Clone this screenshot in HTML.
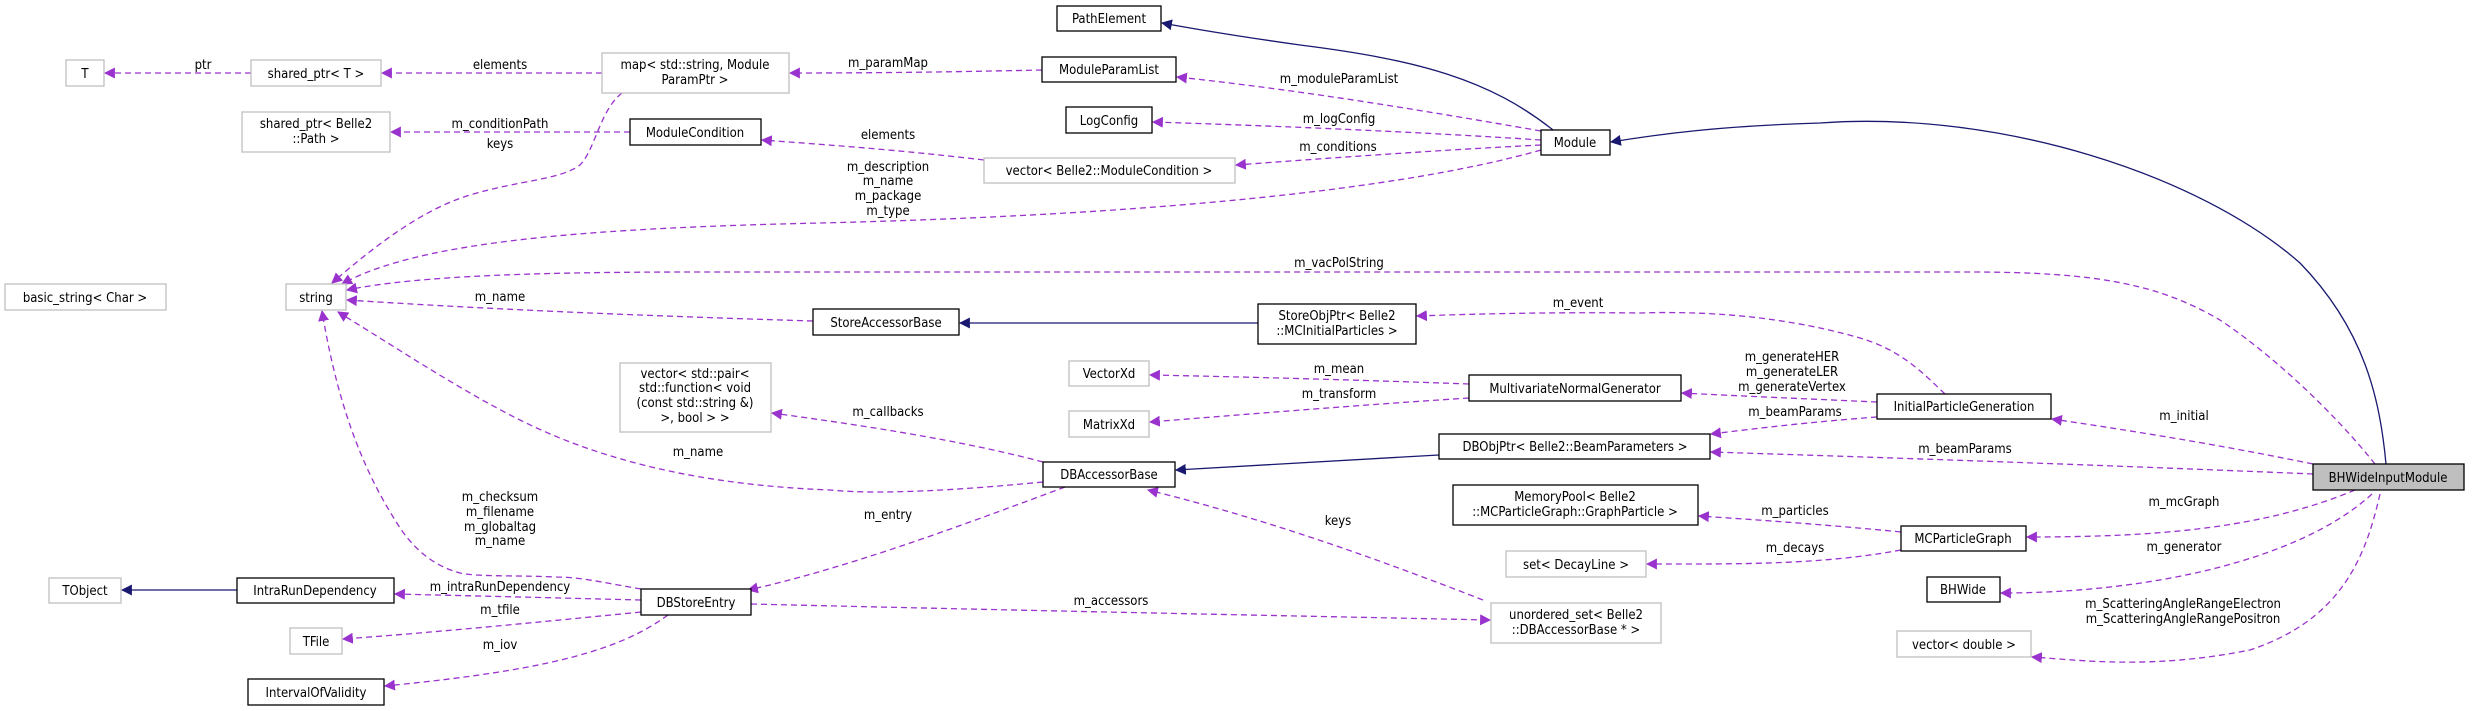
<!DOCTYPE html>
<html><head><meta charset="utf-8"><style>
html,body{margin:0;padding:0;background:#fff;}
svg{display:block;}
text{font-family:"DejaVu Sans Condensed","DejaVu Sans","Liberation Sans",sans-serif;font-size:13px;fill:#000;text-anchor:middle;}
.g{fill:#fff;stroke:#bfbfbf;stroke-width:1.3;}
.b{fill:#fff;stroke:#000;stroke-width:1.3;}
.d{fill:none;stroke:#9a32cd;stroke-width:1.3;stroke-dasharray:6,4;marker-end:url(#pa);}
.s{fill:none;stroke:#191970;stroke-width:1.3;marker-end:url(#na);}
</style></head><body>
<svg width="2491" height="711" viewBox="0 0 2491 711" xmlns="http://www.w3.org/2000/svg">
<defs>
<marker id="pa" viewBox="0 0 10 10" refX="9" refY="5" markerWidth="11" markerHeight="11" markerUnits="userSpaceOnUse" orient="auto"><path d="M0,0 L10,5 L0,10 z" fill="#9a32cd"/></marker>
<marker id="na" viewBox="0 0 10 10" refX="9" refY="5" markerWidth="11" markerHeight="11" markerUnits="userSpaceOnUse" orient="auto"><path d="M0,0 L10,5 L0,10 z" fill="#191970"/></marker>
</defs>

<!-- edges -->
<path class="d" d="M251,73 L105,73"/>
<path class="d" d="M602,73 L382,73"/>
<path class="d" d="M1042,70 C950,72 880,73 790,73"/>
<path class="d" d="M630,132 L391,132"/>
<path class="d" d="M622,93 C600,110 595,150 580,165 C560,180 520,180 470,195 C420,210 370,250 332,283"/>
<path class="d" d="M984,160 C900,150 830,145 762,140"/>
<path class="d" d="M1541,131 C1420,110 1300,90 1177,77"/>
<path class="d" d="M1541,140 C1420,132 1280,126 1153,122"/>
<path class="d" d="M1541,145 C1440,150 1330,158 1236,165"/>
<path class="d" d="M1541,150 C1400,190 1150,215 820,223 C600,228 420,240 342,284"/>
<path class="d" d="M2375,464 C2340,420 2280,360 2220,320 C2160,285 2100,272 1970,272 L700,272 C550,272 420,275 347,290"/>
<path class="d" d="M813,321 C650,316 500,310 347,300"/>
<path class="s" d="M1258,323 L960,323"/>
<path class="d" d="M1945,394 C1920,370 1900,350 1860,338 C1780,315 1700,311 1640,313 C1550,312 1470,314 1417,316"/>
<path class="d" d="M1877,402 C1810,399 1740,396 1682,393"/>
<path class="d" d="M1877,417 C1810,422 1760,428 1711,434"/>
<path class="d" d="M2313,464 C2220,445 2140,432 2052,419"/>
<path class="d" d="M2313,474 C2100,465 1900,458 1711,452"/>
<path class="d" d="M1469,384 C1360,380 1250,377 1150,375"/>
<path class="d" d="M1469,398 C1360,405 1250,414 1150,422"/>
<path class="s" d="M1439,455 C1350,460 1260,465 1176,470"/>
<path class="d" d="M1043,462 C960,440 860,425 772,413"/>
<path class="d" d="M1043,482 C960,490 880,495 830,490 C700,485 600,460 520,420 C460,390 400,350 338,312"/>
<path class="d" d="M641,589 C600,582 580,577 556,577 C510,575 480,577 460,573 C430,565 410,545 395,520 C370,480 340,420 322,311"/>
<path class="d" d="M1065,487 C950,530 840,570 748,590"/>
<path class="d" d="M641,600 C560,598 480,596 395,594"/>
<path class="d" d="M641,612 C540,622 440,632 343,639"/>
<path class="d" d="M668,615 C620,650 550,670 385,686"/>
<path class="s" d="M237,590 L122,590"/>
<path class="d" d="M751,604 C1000,610 1250,615 1490,620"/>
<path class="d" d="M1483,600 C1380,560 1270,520 1148,490"/>
<path class="d" d="M1901,532 C1830,525 1760,520 1699,516"/>
<path class="d" d="M1901,550 C1820,565 1740,564 1647,564"/>
<path class="d" d="M2355,490 C2260,530 2150,537 2027,537"/>
<path class="d" d="M2372,494 C2300,560 2150,593 2001,593"/>
<path class="d" d="M2380,494 C2365,560 2340,620 2250,650 C2150,670 2080,660 2032,657"/>
<path class="s" d="M2386,464 C2380,400 2365,330 2300,263 C2200,175 2000,110 1820,123 C1720,126 1660,134 1611,142"/>
<path class="s" d="M1553,130 C1490,80 1420,60 1300,45 C1250,38 1200,30 1162,23"/>

<!-- nodes -->
<rect class="g" x="66" y="60" width="38" height="26"/><text x="85" y="78">T</text>
<rect class="g" x="251" y="60" width="130" height="26"/><text x="316" y="78">shared_ptr&lt; T &gt;</text>
<rect class="g" x="602" y="53" width="187" height="40"/><text x="695" y="69">map&lt; std::string, Module</text><text x="695" y="84">ParamPtr &gt;</text>
<rect class="g" x="242" y="112" width="148" height="40"/><text x="316" y="128">shared_ptr&lt; Belle2</text><text x="316" y="143">::Path &gt;</text>
<rect class="b" x="630" y="119" width="131" height="26"/><text x="695" y="137">ModuleCondition</text>
<rect class="g" x="5" y="284" width="161" height="26"/><text x="85" y="302">basic_string&lt; Char &gt;</text>
<rect class="g" x="286" y="284" width="60" height="26"/><text x="316" y="302">string</text>
<rect class="b" x="813" y="309" width="146" height="26"/><text x="886" y="327">StoreAccessorBase</text>
<rect class="b" x="1057" y="6" width="104" height="25"/><text x="1109" y="23">PathElement</text>
<rect class="b" x="1042" y="57" width="134" height="25"/><text x="1109" y="74">ModuleParamList</text>
<rect class="b" x="1066" y="107" width="86" height="26"/><text x="1109" y="125">LogConfig</text>
<rect class="g" x="984" y="158" width="251" height="25"/><text x="1109" y="175">vector&lt; Belle2::ModuleCondition &gt;</text>
<rect class="b" x="1541" y="130" width="69" height="25"/><text x="1575" y="147">Module</text>
<rect class="b" x="1258" y="304" width="158" height="40"/><text x="1337" y="320">StoreObjPtr&lt; Belle2</text><text x="1337" y="335">::MCInitialParticles &gt;</text>
<rect class="g" x="620" y="363" width="151" height="69"/><text x="695" y="378">vector&lt; std::pair&lt;</text><text x="695" y="392">std::function&lt; void</text><text x="695" y="407">(const std::string &amp;)</text><text x="695" y="422">&gt;, bool &gt; &gt;</text>
<rect class="g" x="1069" y="361" width="80" height="25"/><text x="1109" y="378">VectorXd</text>
<rect class="g" x="1069" y="411" width="80" height="26"/><text x="1109" y="429">MatrixXd</text>
<rect class="b" x="1469" y="375" width="212" height="26"/><text x="1575" y="393">MultivariateNormalGenerator</text>
<rect class="b" x="1439" y="434" width="271" height="25"/><text x="1575" y="451">DBObjPtr&lt; Belle2::BeamParameters &gt;</text>
<rect class="b" x="1043" y="462" width="132" height="25"/><text x="1109" y="479">DBAccessorBase</text>
<rect class="b" x="1453" y="485" width="245" height="40"/><text x="1575" y="501">MemoryPool&lt; Belle2</text><text x="1575" y="516">::MCParticleGraph::GraphParticle &gt;</text>
<rect class="g" x="1506" y="551" width="140" height="26"/><text x="1576" y="569">set&lt; DecayLine &gt;</text>
<rect class="g" x="1491" y="603" width="170" height="40"/><text x="1576" y="619">unordered_set&lt; Belle2</text><text x="1576" y="634">::DBAccessorBase * &gt;</text>
<rect class="b" x="1877" y="394" width="174" height="25"/><text x="1964" y="411">InitialParticleGeneration</text>
<rect x="2313" y="464" width="151" height="26" fill="#bfbfbf" stroke="#000" stroke-width="1.3"/><text x="2388" y="482">BHWideInputModule</text>
<rect class="b" x="1901" y="526" width="125" height="25"/><text x="1963" y="543">MCParticleGraph</text>
<rect class="b" x="1927" y="577" width="73" height="25"/><text x="1963" y="594">BHWide</text>
<rect class="g" x="1897" y="631" width="134" height="26"/><text x="1964" y="649">vector&lt; double &gt;</text>
<rect class="g" x="49" y="578" width="72" height="25"/><text x="85" y="595">TObject</text>
<rect class="b" x="237" y="578" width="157" height="25"/><text x="315" y="595">IntraRunDependency</text>
<rect class="b" x="641" y="589" width="110" height="26"/><text x="696" y="607">DBStoreEntry</text>
<rect class="g" x="290" y="628" width="52" height="26"/><text x="316" y="646">TFile</text>
<rect class="b" x="248" y="679" width="136" height="26"/><text x="316" y="697">IntervalOfValidity</text>

<!-- labels -->
<text x="203" y="69">ptr</text>
<text x="500" y="69">elements</text>
<text x="888" y="67">m_paramMap</text>
<text x="500" y="128">m_conditionPath</text>
<text x="500" y="148">keys</text>
<text x="888" y="139">elements</text>
<text x="1339" y="83">m_moduleParamList</text>
<text x="1339" y="123">m_logConfig</text>
<text x="1338" y="151">m_conditions</text>
<text x="888" y="171">m_description</text>
<text x="888" y="185">m_name</text>
<text x="888" y="200">m_package</text>
<text x="888" y="215">m_type</text>
<text x="1339" y="267">m_vacPolString</text>
<text x="500" y="301">m_name</text>
<text x="1578" y="307">m_event</text>
<text x="1792" y="361">m_generateHER</text>
<text x="1792" y="376">m_generateLER</text>
<text x="1792" y="391">m_generateVertex</text>
<text x="1795" y="416">m_beamParams</text>
<text x="2184" y="420">m_initial</text>
<text x="1965" y="453">m_beamParams</text>
<text x="1339" y="373">m_mean</text>
<text x="1339" y="398">m_transform</text>
<text x="888" y="416">m_callbacks</text>
<text x="698" y="456">m_name</text>
<text x="888" y="519">m_entry</text>
<text x="1338" y="525">keys</text>
<text x="1111" y="605">m_accessors</text>
<text x="1795" y="515">m_particles</text>
<text x="1795" y="552">m_decays</text>
<text x="2184" y="506">m_mcGraph</text>
<text x="2184" y="551">m_generator</text>
<text x="2183" y="608">m_ScatteringAngleRangeElectron</text>
<text x="2183" y="623">m_ScatteringAngleRangePositron</text>
<text x="500" y="501">m_checksum</text>
<text x="500" y="516">m_filename</text>
<text x="500" y="531">m_globaltag</text>
<text x="500" y="545">m_name</text>
<text x="500" y="591">m_intraRunDependency</text>
<text x="500" y="614">m_tfile</text>
<text x="500" y="649">m_iov</text>
</svg>
</body></html>
